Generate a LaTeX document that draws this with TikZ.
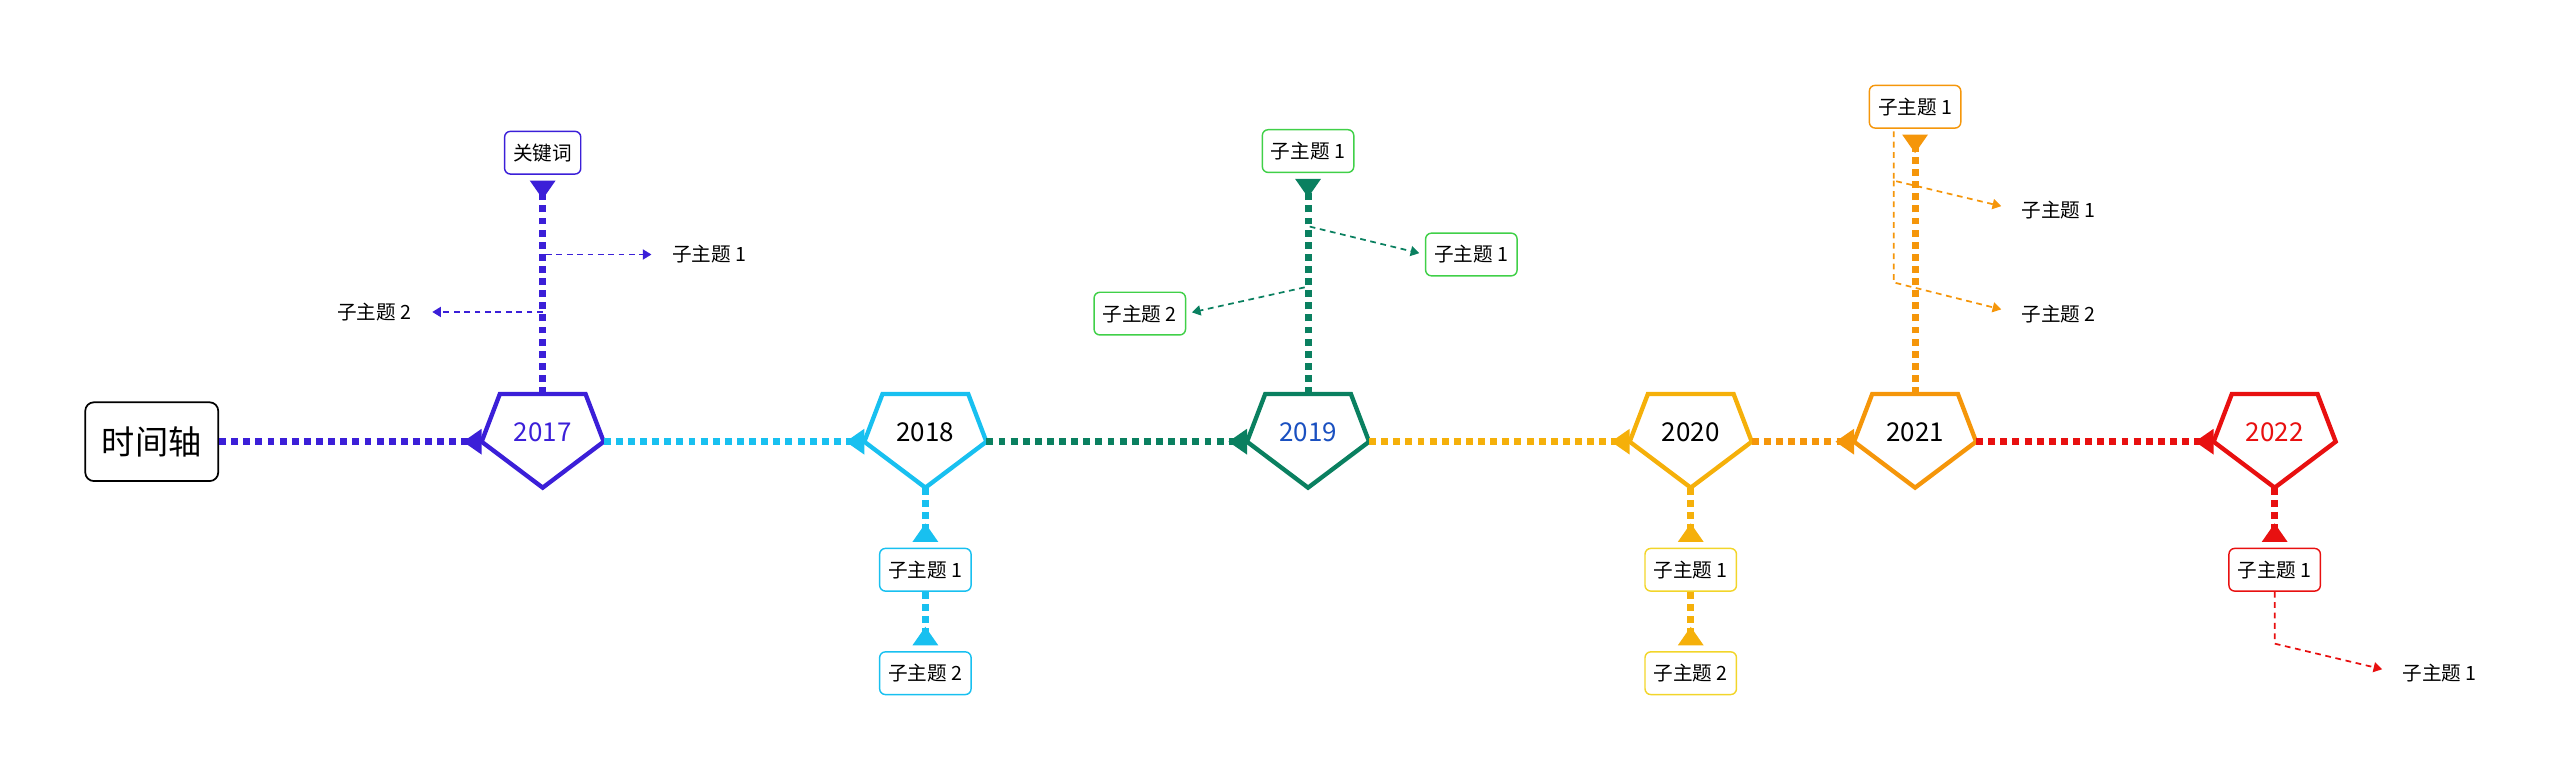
\documentclass[tikz,border=0pt]{standalone}
\usepackage{fontspec}
\setmainfont{Noto Sans CJK SC}
\usetikzlibrary{positioning,calc,arrows.meta}

\definecolor{cA}{HTML}{3B1FD8}
\definecolor{cB}{HTML}{18C0F0}
\definecolor{cC}{HTML}{0A8060}
\definecolor{cCl}{HTML}{40D048}
\definecolor{cD}{HTML}{F5B00A}
\definecolor{cDl}{HTML}{F2D52A}
\definecolor{cE}{HTML}{F5960A}
\definecolor{cF}{HTML}{E81010}
\definecolor{cY}{HTML}{1A50C0}

\tikzset{
  axis/.style={line width=2.4pt, dash pattern=on 2.4pt off 1.8pt,
    -{Triangle[reversed,length=6.5pt,width=8.5pt]}},
  twig/.style={line width=0.6pt, dash pattern=on 2pt off 1.6pt,
    -{Triangle[length=3pt,width=3.5pt]}},
  yeartxt/.style={font=\fontsize{9}{10}\selectfont, inner sep=0pt},
  topic/.style={draw, rounded corners=2pt, line width=0.5pt,
    minimum height=0.52cm, inner xsep=3pt,
    font=\fontsize{6.8}{8}\selectfont},
  leaf/.style={font=\fontsize{6.8}{8}\selectfont, inner sep=1pt}
}

% inverted pentagon around a year node
\newcommand{\pent}[2]{%
  \draw[#2, line width=1.5pt, line join=miter]
    ($(#1)+(-26,-23)$) -- ($(#1)+(26,-23)$) -- ($(#1)+(37,6)$)
    -- ($(#1)+(0,34)$) -- ($(#1)+(-37,6)$) -- cycle;
  \coordinate (#1-l) at ($(#1)+(-37,6)$);
  \coordinate (#1-r) at ($(#1)+(37,6)$);
  \coordinate (#1-t) at ($(#1)+(0,-23)$);
  \coordinate (#1-b) at ($(#1)+(0,34)$);
}

\begin{document}
\begin{tikzpicture}[x=0.0201cm, y=-0.02cm]
\useasboundingbox (0,0) rectangle (1552,473);

%% root
\node[draw, rounded corners=3pt, line width=0.6pt, minimum width=1.62cm,
  minimum height=0.96cm, font=\fontsize{11.5}{13}\selectfont] (root) at (92,269) {时间轴};

%% years
\node[yeartxt, text=cA]    (y17) at (329,263)  {2017};
\node[yeartxt]             (y18) at (561,263)  {2018};
\node[yeartxt, text=cY]    (y19) at (793,263)  {2019};
\node[yeartxt]             (y20) at (1025,263) {2020};
\node[yeartxt]             (y21) at (1161,263) {2021};
\node[yeartxt, text=cF]    (y22) at (1379,263) {2022};
\pent{y17}{cA}
\pent{y18}{cB}
\pent{y19}{cC}
\pent{y20}{cD}
\pent{y21}{cE}
\pent{y22}{cF}

%% main axis
\draw[axis, cA] (root.east) -- (y17-l);
\draw[axis, cB] (y17-r) -- (y18-l);
\draw[axis, cC] (y18-r) -- (y19-l);
\draw[axis, cD] (y19-r) -- (y20-l);
\draw[axis, cE] (y20-r) -- (y21-l);
\draw[axis, cF] (y21-r) -- (y22-l);

%% 2017
\node[topic, draw=cA] (kw) at (329,93) {关键词};
\draw[axis, cA, shorten >=2pt] (y17-t) -- (kw.south);
\node[leaf] (a1) at (430,155) {子主题 1};
\node[leaf] (a2) at (227,190) {子主题 2};
\coordinate (a1s) at (331,155);
\coordinate (a2s) at (329,190);
\draw[twig, cA, shorten >=6pt] (a1s) -- (a1.west);
\draw[twig, cA, shorten >=6pt] (a2s) -- (a2.east);

%% 2018
\node[topic, draw=cB] (b1) at (561,347) {子主题 1};
\node[topic, draw=cB] (b2) at (561,410) {子主题 2};
\draw[axis, cB, shorten >=2pt] (y18-b) -- (b1.north);
\draw[axis, cB, shorten >=2pt] (b1.south) -- (b2.north);

%% 2019
\node[topic, draw=cCl] (c0) at (793,92) {子主题 1};
\draw[axis, cC, shorten >=2pt] (y19-t) -- (c0.south);
\node[topic, draw=cCl] (c1) at (892,155) {子主题 1};
\node[topic, draw=cCl] (c2) at (691,191) {子主题 2};
\coordinate (c1s) at (794,138);
\coordinate (c2s) at (791,175);
\draw[twig, cC, shorten >=2pt] (c1s) -- (c1.west);
\draw[twig, cC, shorten >=2pt] (c2s) -- (c2.east);

%% 2020
\node[topic, draw=cDl] (d1) at (1025,347) {子主题 1};
\node[topic, draw=cDl] (d2) at (1025,410) {子主题 2};
\draw[axis, cD, shorten >=2pt] (y20-b) -- (d1.north);
\draw[axis, cD, shorten >=2pt] (d1.south) -- (d2.north);

%% 2021
\node[topic, draw=cE] (e0) at (1161,65) {子主题 1};
\draw[axis, cE, shorten >=2pt] (y21-t) -- (e0.south);
\node[leaf] (e1) at (1248,128) {子主题 1};
\node[leaf] (e2) at (1248,191) {子主题 2};
\coordinate (e0s) at (1148,80);
\coordinate (ek1) at (1148,110);
\coordinate (ek2) at (1148,172);
\draw[twig, cE, shorten >=6pt] (e0s) -- (ek1) -- (e1.west);
\draw[twig, cE, shorten >=6pt] (ek1) -- (ek2) -- (e2.west);

%% 2022
\node[topic, draw=cF] (f1) at (1379,347) {子主题 1};
\draw[axis, cF, shorten >=2pt] (y22-b) -- (f1.north);
\node[leaf] (f2) at (1479,410) {子主题 1};
\coordinate (fk) at (1379,392);
\draw[twig, cF, shorten >=6pt] (f1.south) -- (fk) -- (f2.west);

\end{tikzpicture}
\end{document}
